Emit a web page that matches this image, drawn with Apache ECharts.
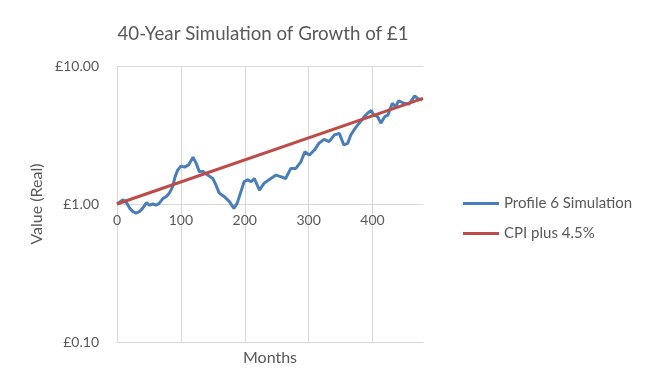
<!DOCTYPE html>
<html>
<head>
<meta charset="utf-8">
<script src="https://cdn.jsdelivr.net/npm/echarts@6/dist/echarts.min.js"></script>
<style>html,body{margin:0;padding:0;background:#fff}#c{width:650px;height:390px}</style>
</head>
<body>
<div id="c"></div>
<script>
const simMonths = [0,9,14,20,25,30,35,40,46,51,56,61,66,72,77,82,87,91,95,100,106,112,119,124,129,134,142,150,155,160,168,176,183,188,194,199,204,210,215,223,230,238,249,256,264,272,280,288,294,301,309,316,324,332,340,348,355,361,366,371,379,387,393,398,402,408,413,419,424,431,436,441,449,457,466,471,478];
const simValues = [1.00,1.07,1.04,0.93,0.88,0.86,0.88,0.93,1.02,0.98,1.00,0.98,1.01,1.10,1.13,1.20,1.33,1.58,1.76,1.88,1.85,1.92,2.18,1.97,1.71,1.73,1.62,1.53,1.37,1.20,1.13,1.04,0.93,1.01,1.23,1.45,1.50,1.45,1.53,1.26,1.41,1.50,1.62,1.58,1.53,1.81,1.81,2.03,2.39,2.26,2.46,2.75,2.94,2.83,3.16,3.25,2.68,2.75,3.16,3.44,3.85,4.29,4.59,4.75,4.42,4.29,3.85,4.29,4.40,5.37,5.07,5.60,5.37,5.30,6.07,5.80,5.67];
const cpiMonths = [0,479];
const cpiValues = [1.00,5.82];
const xTicks = [0,100,200,300,400];
const yTicks = [0.1,1,10];
const seriesNames = ['Profile 6 Simulation','CPI plus 4.5%'];

const pair = (xs, ys) => xs.map((x,i)=>[x,ys[i]]);
const font = 'Lato, "Open Sans", sans-serif';
const grey = '#595959';
const gridCol = '#D9D9D9';
const gridTop = 66, gridBottom = 48, H = 390;
const half = (H - gridTop - gridBottom) / 2;
const blue = '#4A7EBB', red = '#BE4B48';

const chart = echarts.init(document.getElementById('c'), null, {renderer:'canvas'});
chart.setOption({
  animation:false,
  backgroundColor:'#fff',
  textStyle:{fontFamily:font},
  title:{text:'40-Year Simulation of Growth of £1', left:258, top:19, textAlign:'center',
    textStyle:{fontFamily:font, fontSize:18.7, fontWeight:'normal', color:grey}},
  legend:{orient:'vertical', left:458, top:191, itemWidth:36, itemHeight:3, itemGap:15, icon:'rect',
    textStyle:{fontFamily:font, fontSize:15, color:grey},
    data:[{name:seriesNames[0], itemStyle:{color:blue}},{name:seriesNames[1], itemStyle:{color:red}}]},
  grid:{left:117, right:227, top:gridTop, bottom:gridBottom, containLabel:false},
  xAxis:[{
    type:'value', min:0, max:479, interval:100, position:'bottom',
    name:'Months', nameLocation:'middle', nameGap:8,
    nameTextStyle:{fontFamily:font, fontSize:16, color:grey, verticalAlign:'top'},
    axisLine:{show:true, lineStyle:{color:gridCol}},
    axisTick:{show:false}, axisLabel:{show:false},
    splitLine:{show:true, showMinLine:true, showMaxLine:false, lineStyle:{color:gridCol, width:1}}
  },{
    type:'value', min:0, max:479, interval:100, position:'bottom', offset:-half,
    axisLine:{show:true, lineStyle:{color:gridCol}},
    axisTick:{show:false},
    axisLabel:{show:true, showMaxLabel:false, margin:9, fontFamily:font, fontSize:14, color:grey},
    splitLine:{show:false}
  }],
  yAxis:{
    type:'log', logBase:10, min:0.1, max:10,
    name:'Value (Real)', nameLocation:'middle', nameGap:72, nameRotate:90,
    nameTextStyle:{fontFamily:font, fontSize:16, color:grey},
    axisLine:{show:false}, axisTick:{show:false},
    axisLabel:{margin:18, fontFamily:font, fontSize:14, color:grey,
      formatter:v=>'£'+Number(v).toFixed(2)},
    splitLine:{show:true, lineStyle:{color:gridCol, width:1}}
  },
  series:[{
    name:seriesNames[0], type:'line', xAxisIndex:0, data:pair(simMonths, simValues),
    symbol:'none', lineStyle:{color:blue, width:3}, itemStyle:{color:blue}
  },{
    name:seriesNames[1], type:'line', xAxisIndex:0, data:pair(cpiMonths, cpiValues),
    symbol:'none', lineStyle:{color:red, width:3}, itemStyle:{color:red}
  }]
});
</script>
</body>
</html>
